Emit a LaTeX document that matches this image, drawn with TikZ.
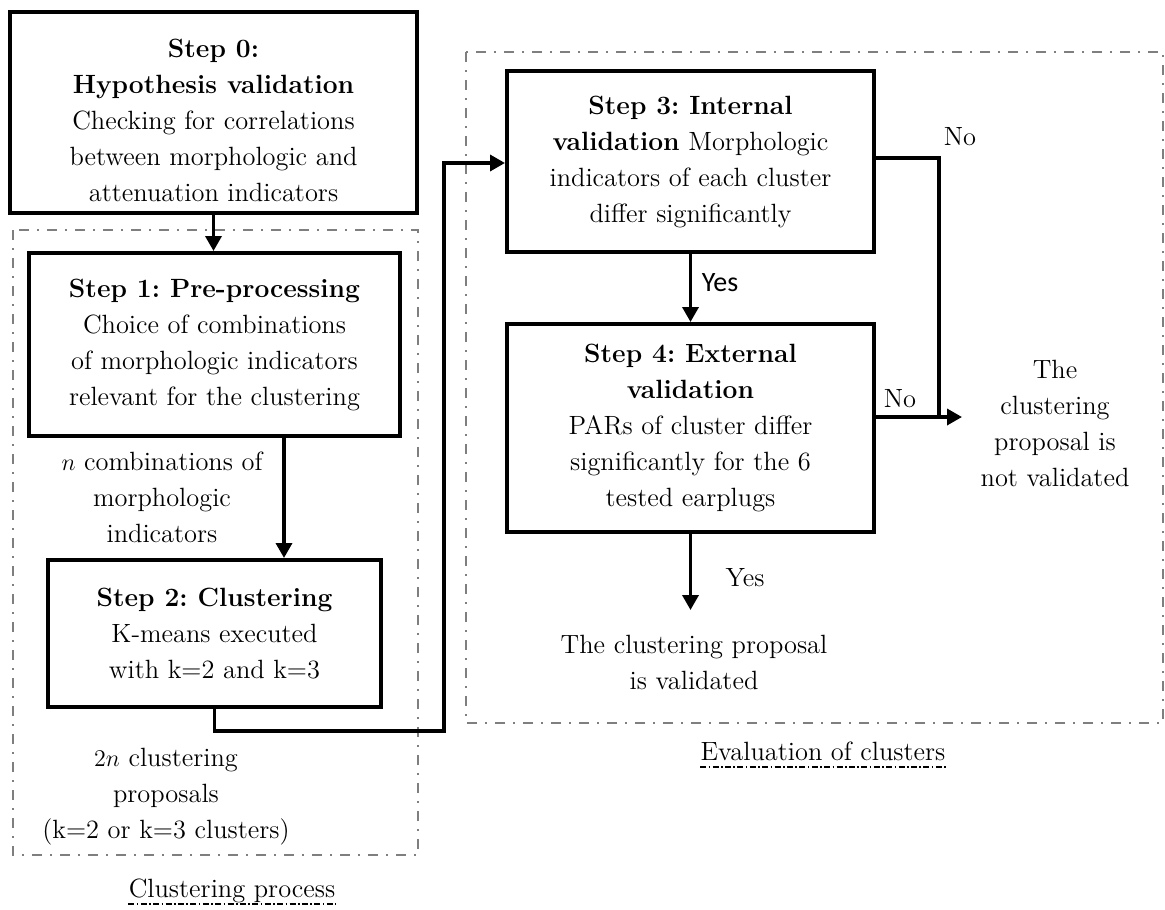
\documentclass[tikz,border=0pt]{standalone}
\usepackage{fontspec}
\newfontfamily\yesfont{Carlito}
\usetikzlibrary{arrows.meta,calc}
\definecolor{grpcol}{HTML}{7F7F7F}
\frenchspacing
\begin{document}
\begin{tikzpicture}[x=0.5pt,y=-0.5pt,
  txt/.style={font=\fontsize{13.2}{18}\selectfont\frenchspacing, align=center, inner sep=0pt},
  box/.style={txt, draw, line width=2pt},
  arr/.style={line width=1.75pt, -{Triangle[length=7.5pt,width=8pt]}},
  ln/.style={line width=1.75pt},
  grpbox/.style={draw=grpcol, line width=1pt, dash pattern=on 5pt off 4pt on 1pt off 4pt},
  ul/.style={line width=0.6pt, dash pattern=on 3pt off 1.2pt on 0.8pt off 1.2pt}]
\useasboundingbox (0,0) rectangle (1165,909);

% group frames
\draw[grpbox] (13,230) rectangle (418,855);
\draw[grpbox] (466,52) rectangle (1163,723);

% boxes
\node[box, minimum width=203.5pt, minimum height=100.5pt] (s0) at (213.5,112.5) {};
\node[txt] (s0t) at (213.5,120)
  {\textbf{Step 0:}\\\textbf{Hypothesis validation}\\Checking for correlations\\between morphologic and\\attenuation indicators};
\node[box, minimum width=185.5pt, minimum height=91.5pt] (s1) at (214.5,344.5)
  {\textbf{Step 1: Pre-processing}\\Choice of combinations\\of morphologic indicators\\relevant for the clustering};
\node[box, minimum width=166.5pt, minimum height=73.5pt] (s2) at (214.5,633.5)
  {\textbf{Step 2: Clustering}\\K-means executed\\with k=2 and k=3};
\node[box, minimum width=183.5pt, minimum height=90.5pt] (s3) at (690.5,161.5)
  {\textbf{Step 3: Internal}\\\textbf{validation} Morphologic\\indicators of each cluster\\differ significantly};
\node[box, minimum width=183.5pt, minimum height=104pt] (s4) at (690.5,428)
  {\textbf{Step 4: External}\\\textbf{validation}\\PARs of cluster differ\\significantly for the 6\\tested earplugs};

% free texts
\node[txt] (ncomb) at (162,497) {$n$ combinations of\\morphologic\\indicators};
\node[txt] (twon) at (166,797) {$2n$ clustering\\proposals\\(k=2 or k=3 clusters)};
\node[txt] (nv) at (1055,423) {The\\clustering\\proposal is\\not validated};
\node[txt] (val) at (694,662) {The clustering proposal\\is validated};
\node[txt] (no1) at (960,137) {No};
\node[txt] (no2) at (900,399) {No};
\node[txt] (yes2) at (745,578) {Yes};
\node[inner sep=0pt, font=\yesfont\fontsize{14}{16}\selectfont] (yes1) at (720,283) {Yes};

% titles
\node[txt, anchor=base] (cp) at (232,897) {Clustering process};
\draw[ul] ([yshift=-3.5pt]cp.base west) -- ([yshift=-3.5pt]cp.base east);
\node[txt, anchor=base] (ev) at (823,760) {Evaluation of clusters};
\draw[ul] ([yshift=-3.5pt]ev.base west) -- ([yshift=-3.5pt]ev.base east);

% coordinates
\coordinate (loop) at (444,731);
\coordinate (bend) at (939,417);
\coordinate (nvtip) at (962,417);
\coordinate (valtip) at (689,610);

% connectors
\draw[arr] (s0.south) -- (s0.south |- s1.north);
\draw[arr] ([xshift=34.75pt]s1.south) -- ([xshift=34.75pt]s2.north);
\draw[arr] (s2.south) |- (loop) |- ([yshift=-0.75pt]s3.west);
\draw[arr] (s3.south) -- (s4.north);
\draw[ln] ([yshift=1.75pt]s3.east) -| (bend);
\draw[arr] ([yshift=5.5pt]s4.east) -- (nvtip);
\draw[arr] (s4.south) -- (s4.south |- valtip);
\end{tikzpicture}
\end{document}
